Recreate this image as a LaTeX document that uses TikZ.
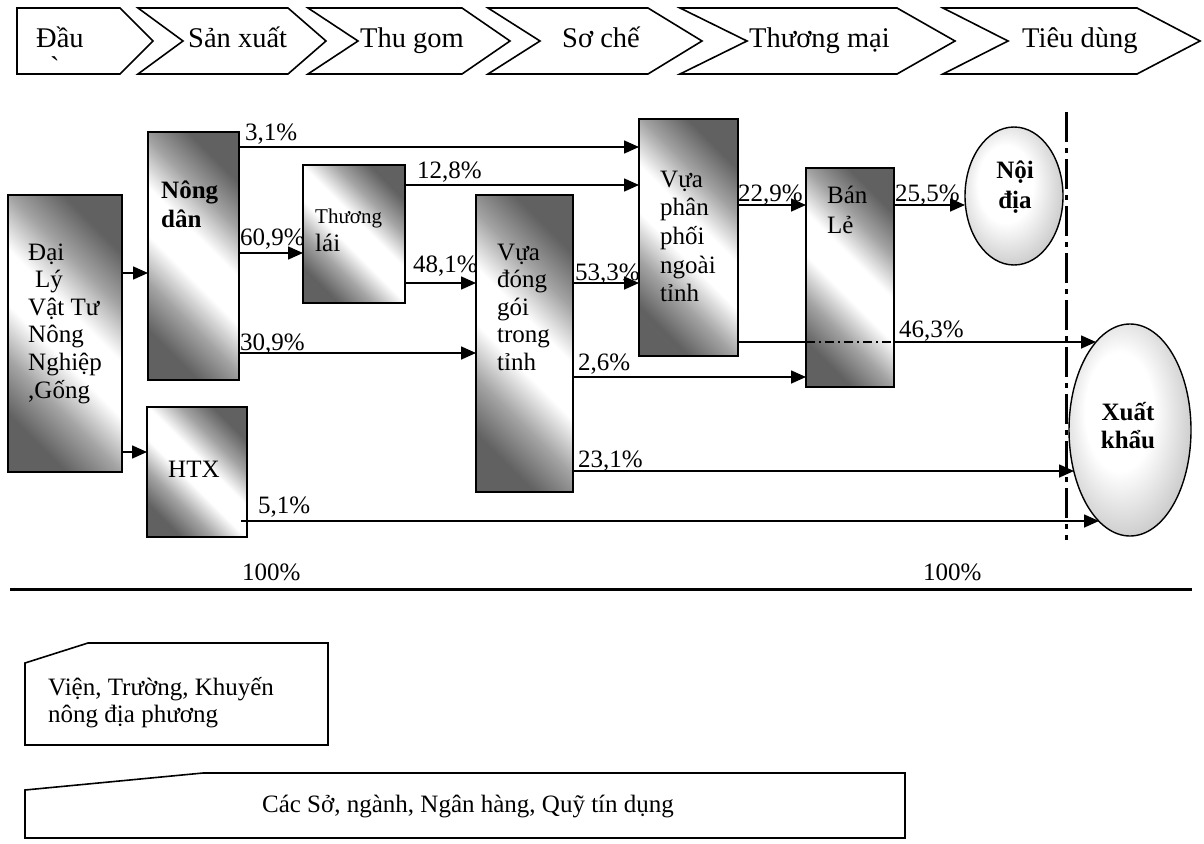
\documentclass[tikz,border=0pt]{standalone}
\usepackage{fontspec}
\setmainfont{Liberation Serif}
\newfontfamily\plainserif{Liberation Serif}[Ligatures=TeXOff]
\usetikzlibrary{arrows.meta,shapes.geometric}
\newcommand\fN{\fontsize{25}{27.6}\selectfont}
\newcommand\fC{\fontsize{28.5}{32}\selectfont}
\newcommand\mlines[2][27.6]{\fontsize{25}{#1}\selectfont\begin{tabular}[t]{@{}l@{}}#2\end{tabular}}
\newcommand\clines[2][27.6]{\fontsize{25}{#1}\selectfont\begin{tabular}[t]{@{}c@{}}#2\end{tabular}}
\pgfdeclareradialshading{ellshade}{\pgfpoint{-6bp}{6bp}}{color(0bp)=(white);color(14bp)=(white);color(50bp)=(black!50)}
\pgfdeclareverticalshading{diagsh}{100bp}{color(0bp)=(black!62);color(25bp)=(black!62);color(35bp)=(black!36);color(45bp)=(white);color(55bp)=(white);color(65bp)=(black!36);color(75bp)=(black!62);color(100bp)=(black!62)}
\begin{document}
\begin{tikzpicture}[x=1pt,y=-1pt,
  gbox/.style={draw, line width=1.6pt, inner sep=0pt, outer sep=0pt,
    shade, shading=diagsh, shading angle=135},
  ell/.style={ellipse, draw, line width=1.4pt, inner sep=0pt, outer sep=0pt, shade, shading=ellshade},
  chev/.style={draw, line width=1.6pt, fill=white, line join=miter},
  plain/.style={draw, line width=1.6pt, line join=miter},
  txt/.style={inner sep=0pt, anchor=base west},
  ctxt/.style={inner sep=0pt, anchor=base},
  arr/.style={line width=1.6pt, -{Triangle[length=15pt,width=13pt]}},
  ln/.style={line width=1.6pt}]
\useasboundingbox (0,0) rectangle (1204,843);

% ---------- top chevrons ----------
\draw[chev] (17,8) -- (120,8) -- (153,41) -- (120,74) -- (17,74) -- cycle;
\draw[chev] (138,8) -- (288,8) -- (326,41) -- (288,74) -- (138,74) -- (183,41) -- cycle;
\draw[chev] (308,8) -- (462,8) -- (510,41) -- (462,74) -- (308,74) -- (358,41) -- cycle;
\draw[chev] (488,8) -- (648,8) -- (702,41) -- (648,74) -- (488,74) -- (540,41) -- cycle;
\draw[chev] (680,8) -- (897,8) -- (955,41) -- (897,74) -- (680,74) -- (747,41) -- cycle;
\draw[chev] (943,8) -- (1137,8) -- (1200,41) -- (1137,74) -- (943,74) -- (1008,41) -- cycle;
\node[txt, font=\fC] (c1) at (36,48) {Đầu};
\node[txt, font={\plainserif\fontsize{28.5}{32}\selectfont}] (c1g) at (50,76) {\char"60};
\node[txt, font=\fC] (c2) at (188,48) {Sản xuất};
\node[txt, font=\fC] (c3) at (360,48) {Thu gom};
\node[txt, font=\fC] (c4) at (562,48) {Sơ chế};
\node[txt, font=\fC] (c5) at (749,48) {Thương mại};
\node[txt, font=\fC] (c6) at (1022,48) {Tiêu dùng};

% ---------- y levels ----------
\coordinate (y147) at (0,147);
\coordinate (y185) at (0,185);
\coordinate (y205) at (0,205);
\coordinate (y253) at (0,253);
\coordinate (y273) at (0,273);
\coordinate (y283) at (0,283);
\coordinate (y342) at (0,342);
\coordinate (y353) at (0,353);
\coordinate (y377) at (0,377);
\coordinate (y452) at (0,452);
\coordinate (y471) at (0,471);

% ---------- boxes ----------
\node[gbox, minimum width=114pt, minimum height=277pt] (dl) at (65,333.5) {};
\node[gbox, minimum width=91pt, minimum height=248pt] (nd) at (193.5,256) {};
\node[gbox, minimum width=102pt, minimum height=138pt] (tl) at (354,234) {};
\node[gbox, minimum width=100pt, minimum height=130pt] (htx) at (197,472) {};
\node[gbox, minimum width=97pt, minimum height=297pt] (vd) at (524.5,343.5) {};
\node[gbox, minimum width=99pt, minimum height=237pt] (vp) at (688.5,237.5) {};
\node[gbox, minimum width=88pt, minimum height=219pt] (bl) at (850,277.5) {};
\node[ell, minimum width=98pt, minimum height=138pt] (ndia) at (1014,196) {};
\node[ell, minimum width=122pt, minimum height=212pt] (xk) at (1130,430) {};

% ---------- box texts ----------
\node[txt] (dlT) at (28,260) {\mlines{Đại\\\hspace{7pt}Lý\\Vật Tư\\Nông\\Nghiệp\\,Gống}};
\node[txt] (ndT) at (161,198) {\bfseries\mlines[29]{Nông\\dân}};
\node[txt] (tlT) at (315,223) {\mlines[28.5]{{\fontsize{21}{25}\selectfont Thương}\\lái}};
\node[txt, font=\fN] (htxT) at (168,477) {HTX};
\node[txt] (vdT) at (497,260) {\mlines[27.5]{Vựa\\đóng\\gói\\trong\\tỉnh}};
\node[txt] (vpT) at (660,187) {\mlines[28.7]{Vựa\\phân\\phối\\ngoài\\tỉnh}};
\node[txt] (blT) at (827,203) {\mlines[30]{Bán\\Lẻ}};
\node[ctxt] (ndiaT) at (1015,178) {\bfseries\clines[30]{Nội\\địa}};
\node[ctxt] (xkT) at (1128,420) {\bfseries\clines[28]{Xuất\\khẩu}};

% ---------- connector end points on the ellipses ----------
\coordinate (xk342) at (1096,342);
\coordinate (xk471) at (1074,471);
\coordinate (xk521) at (1099,521);
\coordinate (h51s) at ([shift={(-6,49)}]htx.east);

% ---------- connectors ----------
\draw[arr] (dl.east |- y273) -- (nd.west |- y273);
\draw[arr] (dl.east |- y452) -- (htx.west |- y452);
\draw[arr] (nd.east |- y147) -- (vp.west |- y147);
\draw[arr] (nd.east |- y253) -- (tl.west |- y253);
\draw[arr] (nd.east |- y353) -- (vd.west |- y353);
\draw[arr] (tl.east |- y185) -- (vp.west |- y185);
\draw[arr] (tl.east |- y283) -- (vd.west |- y283);
\draw[arr] (vd.east |- y283) -- (vp.west |- y283);
\draw[arr] (vd.east |- y377) -- (bl.west |- y377);
\draw[arr] (vd.east |- y471) -- (xk471);
\draw[arr] (vp.east |- y205) -- (bl.west |- y205);
\draw[arr] (bl.east |- y205) -- (ndia.west |- y205);
\draw[ln] (vp.east |- y342) -- (bl.west |- y342);
\draw[line width=1.2pt, dash pattern=on 9pt off 4pt on 2pt off 4pt] (bl.west |- y342) -- (bl.east |- y342);
\draw[arr] (bl.east |- y342) -- (xk342);
\draw[arr] (h51s) -- (xk521);

% ---------- vertical boundary ----------
\coordinate (vt) at (1066,112);
\coordinate (vb) at (1066,540);
\draw[line width=3pt, dash pattern=on 30pt off 6pt on 5pt off 6pt] (vt) -- (vb);

% ---------- percent labels ----------
\node[txt, font=\fN] (p31) at (245,140) {3,1\%};
\node[txt, font=\fN] (p609) at (240,245) {60,9\%};
\node[txt, font=\fN] (p309) at (240,350) {30,9\%};
\node[txt, font=\fN] (p128) at (417,178) {12,8\%};
\node[txt, font=\fN] (p481) at (413,272) {48,1\%};
\node[txt, font=\fN] (p533) at (575,280) {53,3\%};
\node[txt, font=\fN] (p26) at (578,370) {2,6\%};
\node[txt, font=\fN] (p231) at (578,467) {23,1\%};
\node[txt, font=\fN] (p229) at (738,201) {22,9\%};
\node[txt, font=\fN] (p255) at (895,201) {25,5\%};
\node[txt, font=\fN] (p463) at (899,337) {46,3\%};
\node[txt, font=\fN] (p51) at (258,513) {5,1\%};
\node[txt, font=\fN] (h1) at (242,580) {100\%};
\node[txt, font=\fN] (h2) at (923,580) {100\%};

% ---------- horizontal rule ----------
\coordinate (hl) at (10,589);
\coordinate (hr) at (1192,589);
\draw[line width=3pt] (hl) -- (hr);

% ---------- bottom boxes ----------
\draw[plain] (25,663) -- (88,643) -- (328,643) -- (328,745) -- (25,745) -- cycle;
\node[txt] (vienT) at (48,695) {\mlines[27]{Viện, Trường, Khuyến\\nông địa phương}};
\draw[plain] (25,790) -- (203,773) -- (905,773) -- (905,838) -- (25,838) -- cycle;
\node[ctxt, font=\fN] (soT) at (468,812) {Các Sở, ngành, Ngân hàng, Quỹ tín dụng};
\end{tikzpicture}
\end{document}
